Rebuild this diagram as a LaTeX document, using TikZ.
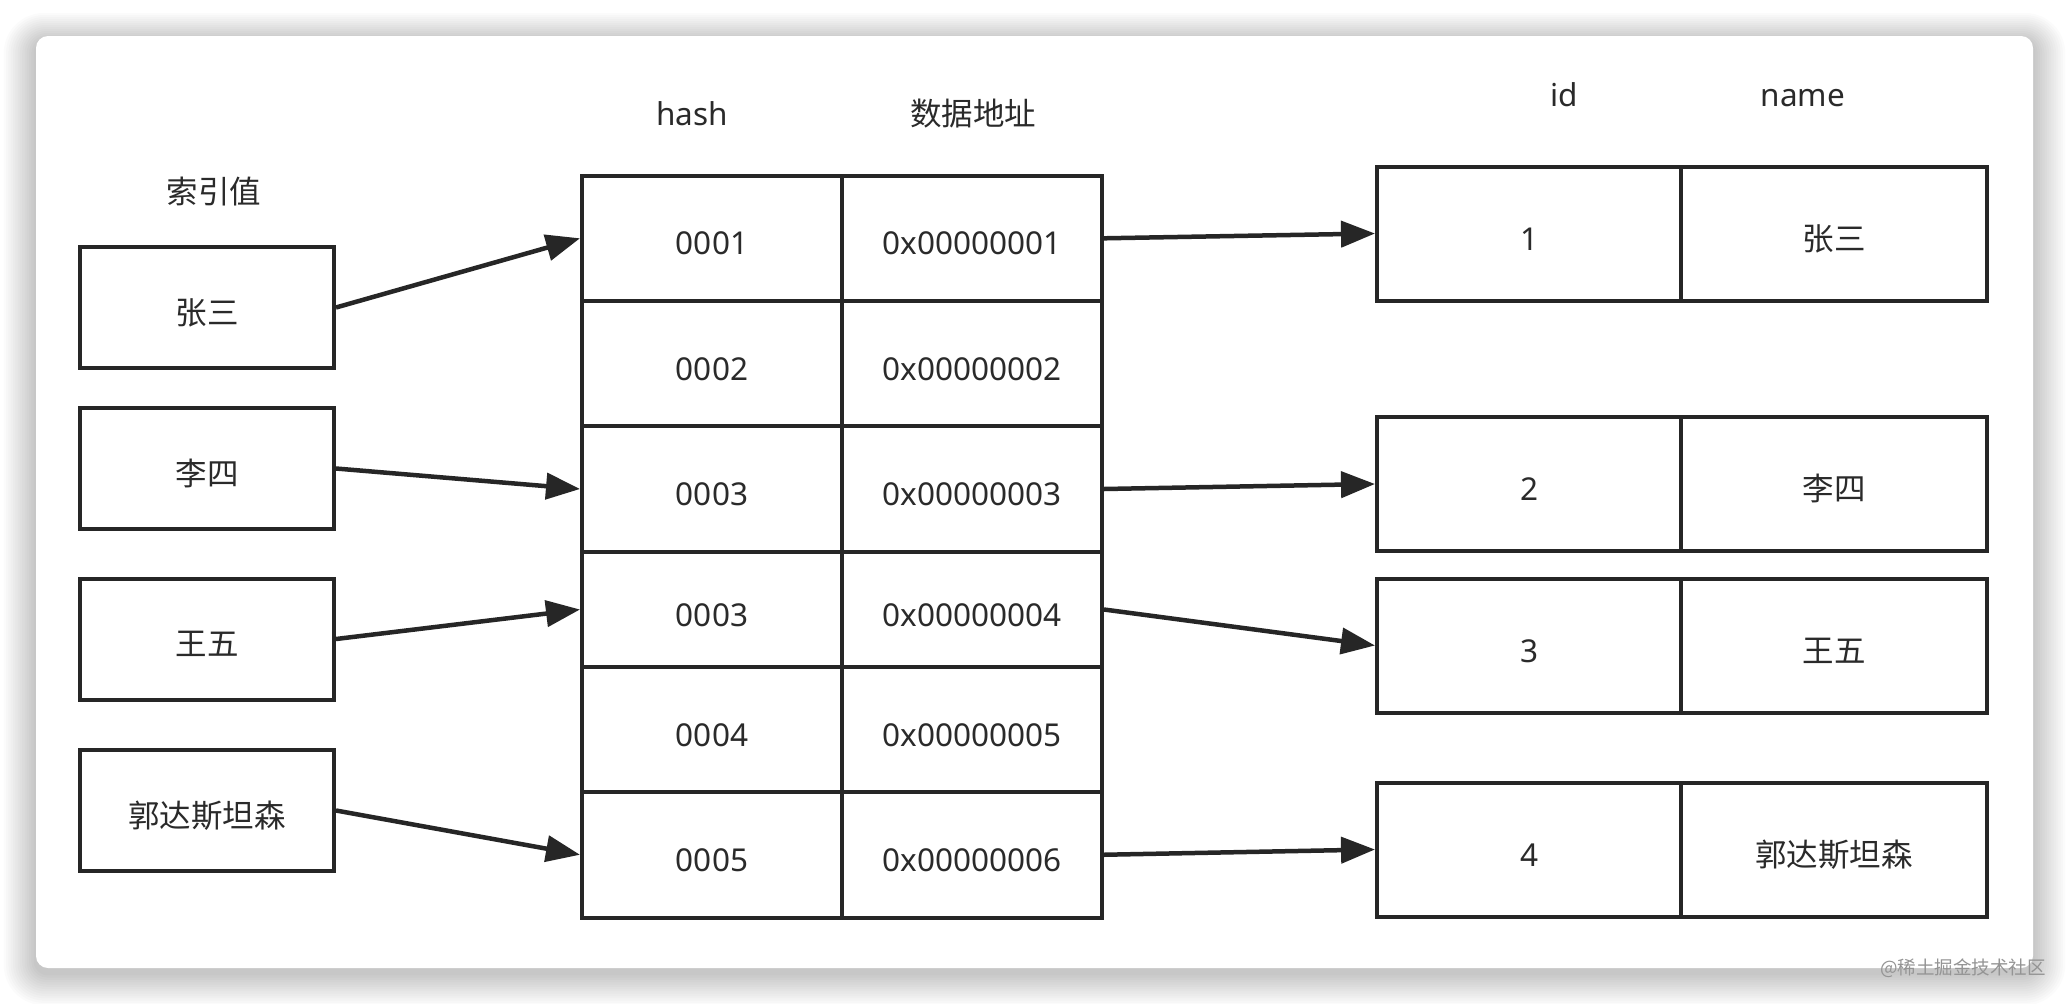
\documentclass[tikz,border=0pt]{standalone}
\usepackage{fontspec}
\setmainfont{Noto Sans}
\newfontfamily\cjk{Noto Sans CJK SC}
\usetikzlibrary{arrows.meta}
\definecolor{linec}{HTML}{262626}
\definecolor{txtc}{HTML}{2A2A2A}
\tikzset{
  lbl/.style={inner sep=0pt, text=txtc, font=\fontsize{31.5}{36}\selectfont, text height=23pt, text depth=0pt},
  box/.style={lbl, draw=linec, line width=4pt, fill=white, text height=33pt},
  keybox/.style={box, minimum width=254pt, minimum height=121pt},
  hcell/.style={box, minimum width=260pt, minimum height=#1},
  idcell/.style={box, minimum width=304pt, minimum height=134pt},
  namecell/.style={box, minimum width=306pt, minimum height=134pt},
  arr/.style={draw=linec, line width=4.5pt, -{Triangle[length=34pt,width=26pt]}},
}
\begin{document}
\begin{tikzpicture}[x=1pt,y=-1pt]
\useasboundingbox (0,0) rectangle (2070,1004);
\fill[white] (0,0) rectangle (2070,1004);
% card shadow
\foreach \i in {1,...,14} {
  \fill[black, opacity=0.015, rounded corners={12+\i*2}]
    ({36-\i*2.3},{36-\i*2.0+5}) rectangle ({2033+\i*2.3},{968+\i*2.3+5});
}
\fill[white, rounded corners=12] (36,36) rectangle (2033,968);

% headers
\node[lbl] (t0) at (214,192) {\cjk 索引值};
\node[lbl] (t1) at (692,113.5) {hash};
\node[lbl] (t2) at (973,113.5) {\cjk 数据地址};
\node[lbl] (t3) at (1564,95) {id};
\node[lbl] (t4) at (1803,95) {name};

% key boxes
\node[keybox] (k1) at (207,307.5) {\cjk 张三};
\node[keybox] (k2) at (207,468.5) {\cjk 李四};
\node[keybox] (k3) at (207,639) {\cjk 王五};
\node[keybox] (k4) at (207,810.5) {\cjk 郭达斯坦森};

% hash table
\node[hcell=125.4pt] (h1) at (712,238.3) {0001};
\node[hcell=125.4pt] (a1) at (972,238.3) {0x00000001};
\node[hcell=125pt] (h2) at (712,363.5) {0002};
\node[hcell=125pt] (a2) at (972,363.5) {0x00000002};
\node[hcell=126pt] (h3) at (712,489) {0003};
\node[hcell=126pt] (a3) at (972,489) {0x00000003};
\node[hcell=115pt] (h4) at (712,609.5) {0003};
\node[hcell=115pt] (a4) at (972,609.5) {0x00000004};
\node[hcell=125pt] (h5) at (712,729.5) {0004};
\node[hcell=125pt] (a5) at (972,729.5) {0x00000005};
\node[hcell=125.5pt] (h6) at (712,854.75) {0005};
\node[hcell=125.5pt] (a6) at (972,854.75) {0x00000006};

% data rows
\node[idcell] (i1) at (1529,233.5) {1};
\node[namecell] (n1) at (1834,233.5) {\cjk 张三};
\node[idcell] (i2) at (1529,484) {2};
\node[namecell] (n2) at (1834,484) {\cjk 李四};
\node[idcell] (i3) at (1529,645.5) {3};
\node[namecell] (n3) at (1834,645.5) {\cjk 王五};
\node[idcell] (i4) at (1529,849.5) {4};
\node[namecell] (n4) at (1834,849.5) {\cjk 郭达斯坦森};

% arrows
\draw[arr] (k1.east) -- (h1.west);
\draw[arr] (k2.east) -- (h3.west);
\draw[arr] (k3.east) -- (h4.west);
\draw[arr] (k4.east) -- (h6.west);
\draw[arr] (a1.east) -- (i1.west);
\draw[arr] (a3.east) -- (i2.west);
\draw[arr] (a4.east) -- (i3.west);
\draw[arr] (a6.east) -- (i4.west);

% watermark
\node[inner sep=0pt, text=black!42, font=\cjk\fontsize{18.5}{20}\selectfont] (wm) at (1963,968) {@稀土掘金技术社区};
\end{tikzpicture}
\end{document}
